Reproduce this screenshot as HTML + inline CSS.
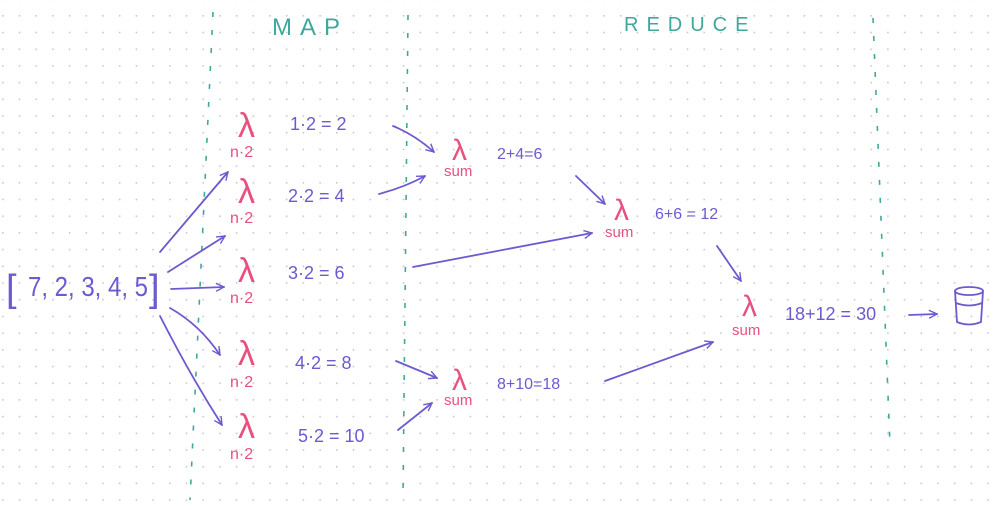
<!DOCTYPE html>
<html><head><meta charset="utf-8"><style>
html,body{margin:0;padding:0;background:#fff;}
svg{display:block;}
.t{font-family:"Liberation Sans",sans-serif;fill:#6b5bd0;}
.p{font-family:"Liberation Sans",sans-serif;fill:#e8507e;}
.g{font-family:"Liberation Sans",sans-serif;fill:#3fa89c;letter-spacing:8px;}
.a{stroke:#6b5bd0;stroke-width:1.8;fill:none;stroke-linecap:round;stroke-linejoin:round;}
.d{stroke:#3fa89c;stroke-width:1.6;fill:none;stroke-dasharray:5 13;}
</style></head><body>
<svg width="1000" height="510" viewBox="0 0 1000 510" xmlns="http://www.w3.org/2000/svg">
<defs>
<pattern id="dots" x="2" y="15" width="16.7" height="16.7" patternUnits="userSpaceOnUse">
<circle cx="0.8" cy="0.8" r="0.9" fill="#c8c8c8"/>
</pattern>
<marker id="ar" viewBox="0 0 10 10" refX="9" refY="5" markerWidth="10" markerHeight="10" markerUnits="userSpaceOnUse" orient="auto">
<path d="M1,1 L9,5 L1,9" fill="none" stroke="#6b5bd0" stroke-width="1.4"/>
</marker>
</defs>
<rect width="1000" height="510" fill="#fff"/>
<rect width="1000" height="510" fill="url(#dots)"/>

<path class="d" d="M213,12 L190,500"/>
<path class="d" d="M408,15 L403,495"/>
<path class="d" d="M873,18 L890,445"/>

<text class="g" x="272" y="35" font-size="24">MAP</text>
<text class="g" x="624" y="31" font-size="20">REDUCE</text>

<text class="t" x="6" y="301" font-size="38">[</text>
<text class="t" x="28" y="296" font-size="28" textLength="120" lengthAdjust="spacingAndGlyphs">7, 2, 3, 4, 5</text>
<text class="t" x="149" y="301" font-size="38">]</text>

<g class="p">
<text x="238" y="137" font-size="34">λ</text><text x="230" y="157" font-size="16">n·2</text>
<text x="238" y="203" font-size="34">λ</text><text x="230" y="223" font-size="16">n·2</text>
<text x="238" y="282" font-size="34">λ</text><text x="230" y="303" font-size="16">n·2</text>
<text x="238" y="365" font-size="34">λ</text><text x="230" y="387" font-size="16">n·2</text>
<text x="238" y="438" font-size="34">λ</text><text x="230" y="459" font-size="16">n·2</text>
</g>
<g class="t" font-size="18">
<text x="290" y="130">1·2  = 2</text>
<text x="288" y="202">2·2  = 4</text>
<text x="288" y="279">3·2  = 6</text>
<text x="295" y="369">4·2  = 8</text>
<text x="298" y="442">5·2  = 10</text>
</g>

<g class="p">
<text x="452" y="160" font-size="30">λ</text><text x="444" y="176" font-size="15">sum</text>
<text x="614" y="220" font-size="30">λ</text><text x="605" y="237" font-size="15">sum</text>
<text x="742" y="316" font-size="30">λ</text><text x="732" y="335" font-size="15">sum</text>
<text x="452" y="390" font-size="30">λ</text><text x="444" y="405" font-size="15">sum</text>
</g>
<g class="t" font-size="16">
<text x="497" y="159">2+4=6</text>
<text x="655" y="219">6+6 = 12</text>
<text x="785" y="320" font-size="18">18+12 = 30</text>
<text x="497" y="389">8+10=18</text>
</g>

<g class="a" marker-end="url(#ar)">
<path d="M160,252 L228,172"/>
<path d="M168,272 L225,236"/>
<path d="M171,289 L224,287"/>
<path d="M170,308 Q200,325 220,355"/>
<path d="M160,316 Q190,375 222,425"/>
<path d="M393,126 Q415,135 434,152"/>
<path d="M379,194 Q405,187 425,176"/>
<path d="M413,267 L592,233"/>
<path d="M396,361 L437,378"/>
<path d="M398,430 L432,403"/>
<path d="M576,176 L605,204"/>
<path d="M717,246 L741,281"/>
<path d="M605,381 L713,342"/>
<path d="M909,315 L937,314"/>
</g>

<g class="a">
<ellipse cx="969" cy="291" rx="14" ry="4"/>
<path d="M955,291 L957,322 Q969,327 981,322 L983,291"/>
<path d="M956,303 Q969,308 982,303"/>
</g>
</svg>
</body></html>
